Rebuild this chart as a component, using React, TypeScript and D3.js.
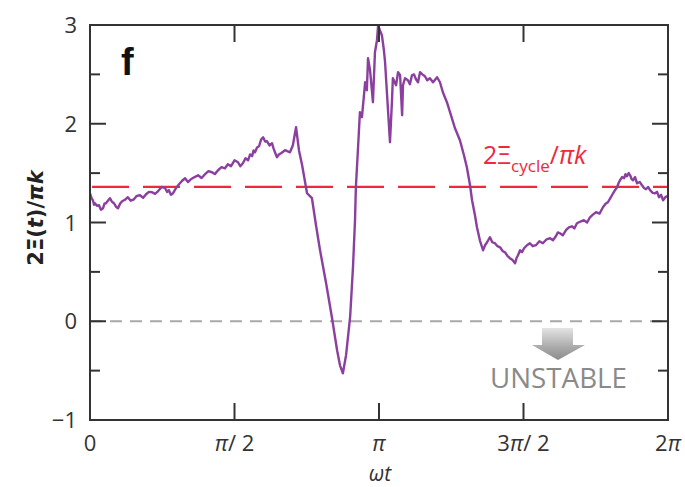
import React from "react";
import * as d3 from "d3";

// Trace of the normalised tilt: [phase ωt in units of π, 2Ξ(t)/πk]
const trace: [number, number][] = [
  [0.0, 1.296], [0.005, 1.25], [0.01, 1.225], [0.014, 1.18], [0.017, 1.195], [0.024, 1.17],
  [0.031, 1.175], [0.038, 1.13], [0.045, 1.144], [0.05, 1.19], [0.055, 1.195], [0.062, 1.22],
  [0.069, 1.246], [0.076, 1.21], [0.083, 1.195], [0.09, 1.16], [0.097, 1.144], [0.104, 1.19],
  [0.111, 1.215], [0.121, 1.23], [0.131, 1.256], [0.141, 1.22], [0.152, 1.235], [0.162, 1.27],
  [0.173, 1.276], [0.184, 1.25], [0.194, 1.286], [0.204, 1.31], [0.215, 1.306], [0.225, 1.29],
  [0.235, 1.316], [0.248, 1.36], [0.26, 1.347], [0.267, 1.31], [0.273, 1.327], [0.28, 1.28],
  [0.287, 1.296], [0.298, 1.35], [0.308, 1.387], [0.318, 1.42], [0.329, 1.448], [0.339, 1.41],
  [0.349, 1.438], [0.362, 1.46], [0.374, 1.478], [0.386, 1.45], [0.398, 1.489], [0.41, 1.52],
  [0.422, 1.509], [0.432, 1.49], [0.443, 1.529], [0.455, 1.56], [0.467, 1.549], [0.477, 1.59],
  [0.488, 1.57], [0.5, 1.63], [0.512, 1.61], [0.52, 1.57], [0.529, 1.6], [0.538, 1.65],
  [0.547, 1.63], [0.554, 1.69], [0.561, 1.671], [0.566, 1.73], [0.571, 1.711], [0.578, 1.76],
  [0.585, 1.772], [0.592, 1.84], [0.599, 1.863], [0.606, 1.82], [0.612, 1.823], [0.621, 1.78],
  [0.63, 1.803], [0.635, 1.75], [0.64, 1.711], [0.647, 1.661], [0.654, 1.69], [0.661, 1.701],
  [0.675, 1.732], [0.692, 1.711], [0.702, 1.782], [0.713, 1.965], [0.723, 1.732], [0.734, 1.58],
  [0.751, 1.296], [0.768, 1.246], [0.782, 0.972], [0.796, 0.719], [0.817, 0.385], [0.837, 0.041],
  [0.855, -0.294], [0.865, -0.446], [0.875, -0.527], [0.886, -0.344], [0.9, 0.041], [0.91, 0.547],
  [0.917, 1.023], [0.92, 1.357], [0.927, 1.732], [0.934, 2.116], [0.941, 2.066], [0.948, 2.289],
  [0.952, 2.42], [0.958, 2.339], [0.962, 2.663], [0.969, 2.542], [0.979, 2.218], [0.986, 2.724],
  [0.993, 2.846], [0.997, 2.997], [1.003, 2.947], [1.01, 2.896], [1.017, 2.744], [1.021, 2.623],
  [1.028, 2.289], [1.038, 1.813], [1.045, 2.238], [1.048, 2.461], [1.059, 2.39], [1.066, 2.522],
  [1.073, 2.491], [1.08, 2.086], [1.083, 2.39], [1.09, 2.461], [1.1, 2.441], [1.107, 2.4],
  [1.114, 2.491], [1.121, 2.5], [1.128, 2.451], [1.135, 2.42], [1.142, 2.522], [1.15, 2.5],
  [1.159, 2.481], [1.167, 2.44], [1.176, 2.461], [1.187, 2.42], [1.201, 2.471], [1.211, 2.42],
  [1.221, 2.319], [1.235, 2.218], [1.246, 2.116], [1.263, 1.954], [1.28, 1.833], [1.294, 1.681],
  [1.304, 1.559], [1.315, 1.377], [1.322, 1.225], [1.332, 1.073], [1.339, 0.952], [1.349, 0.82],
  [1.36, 0.719], [1.367, 0.77], [1.374, 0.8], [1.384, 0.851], [1.392, 0.8], [1.401, 0.79],
  [1.41, 0.76], [1.419, 0.749], [1.428, 0.71], [1.436, 0.699], [1.445, 0.66], [1.453, 0.638],
  [1.462, 0.62], [1.471, 0.587], [1.476, 0.64], [1.481, 0.668], [1.488, 0.719], [1.495, 0.7],
  [1.502, 0.739], [1.512, 0.77], [1.522, 0.79], [1.532, 0.76], [1.543, 0.77], [1.555, 0.81],
  [1.567, 0.79], [1.58, 0.83], [1.592, 0.841], [1.602, 0.82], [1.612, 0.861], [1.619, 0.9],
  [1.626, 0.891], [1.636, 0.87], [1.647, 0.922], [1.657, 0.95], [1.668, 0.962], [1.676, 0.94],
  [1.685, 0.992], [1.697, 1.01], [1.709, 1.023], [1.72, 1.0], [1.73, 1.053], [1.74, 1.08],
  [1.751, 1.104], [1.763, 1.09], [1.775, 1.154], [1.784, 1.19], [1.792, 1.205], [1.801, 1.25],
  [1.81, 1.296], [1.817, 1.33], [1.824, 1.357], [1.829, 1.4], [1.834, 1.428], [1.841, 1.46],
  [1.848, 1.448], [1.853, 1.49], [1.858, 1.468], [1.864, 1.5], [1.869, 1.478], [1.874, 1.44],
  [1.879, 1.428], [1.886, 1.46], [1.893, 1.397], [1.902, 1.41], [1.91, 1.377], [1.917, 1.35],
  [1.924, 1.337], [1.931, 1.36], [1.938, 1.327], [1.947, 1.3], [1.955, 1.296], [1.962, 1.31],
  [1.969, 1.256], [1.976, 1.28], [1.983, 1.225], [1.992, 1.26], [2.0, 1.27],
];
const cycleLevel = 1.36;
const yMajor = [-1, 0, 1, 2, 3];
const yMinor = [-0.5, 0.5, 1.5, 2.5];
const xTicks = [0, 0.5, 1, 1.5, 2];
const xTickLabels = ["0", "π/ 2", "π", "3π/ 2", "2π"];

const W = 685;
const H = 487;
const left = 90;
const right = 668;
const top = 25;
const bottom = 420;

export default function App() {
  const x = d3.scaleLinear().domain([0, 2]).range([left, right]);
  const y = d3.scaleLinear().domain([-1, 3]).range([bottom, top]);
  const line = d3
    .line<[number, number]>()
    .x((d) => x(d[0]))
    .y((d) => y(d[1]))
    .curve(d3.curveLinear);

  const axisColor = "#333";
  const tickFont = "'Open Sans', 'DejaVu Sans', sans-serif";

  const renderXLabel = (lab: string) =>
    lab.split("").map((ch, i) =>
      ch === "π" ? (
        <tspan key={i} fontStyle="italic">
          {ch}
        </tspan>
      ) : (
        <tspan key={i}>{ch}</tspan>
      )
    );

  return (
    <svg
      width={W}
      height={H}
      style={{ position: "absolute", left: 0, top: 0, background: "#fff" }}
    >
      <defs>
        <linearGradient id="arrowFill" x1="0" y1="0" x2="0" y2="1">
          <stop offset="0%" stopColor="#e4e4e4" />
          <stop offset="60%" stopColor="#aaaaaa" />
          <stop offset="100%" stopColor="#8c8c8c" />
        </linearGradient>
      </defs>

      {/* zero reference */}
      <line
        x1={left}
        x2={right}
        y1={y(0)}
        y2={y(0)}
        stroke="#a8a8a8"
        strokeWidth={2}
        strokeDasharray="12 8"
      />

      {/* cycle-averaged level */}
      <line
        x1={left + 2}
        x2={right}
        y1={y(cycleLevel)}
        y2={y(cycleLevel)}
        stroke="#ec2a3c"
        strokeWidth={2.2}
        strokeDasharray="37 14"
      />

      {/* tilt trace */}
      <path
        d={line(trace) || ""}
        fill="none"
        stroke="#8b3f9f"
        strokeWidth={2.4}
        strokeLinejoin="round"
      />

      {/* frame */}
      <rect
        x={left}
        y={top}
        width={right - left}
        height={bottom - top}
        fill="none"
        stroke={axisColor}
        strokeWidth={2}
      />

      {/* y ticks, left and right, pointing inward */}
      {yMajor.map((v) => (
        <g key={"ym" + v}>
          <line x1={left} x2={left + 16} y1={y(v)} y2={y(v)} stroke={axisColor} strokeWidth={2} />
          <line x1={right} x2={right - 16} y1={y(v)} y2={y(v)} stroke={axisColor} strokeWidth={2} />
        </g>
      ))}
      {yMinor.map((v) => (
        <g key={"yn" + v}>
          <line x1={left} x2={left + 10} y1={y(v)} y2={y(v)} stroke={axisColor} strokeWidth={2} />
          <line x1={right} x2={right - 10} y1={y(v)} y2={y(v)} stroke={axisColor} strokeWidth={2} />
        </g>
      ))}

      {/* x ticks, bottom and top, pointing inward */}
      {xTicks.slice(1, -1).map((v) => (
        <g key={"xt" + v}>
          <line x1={x(v)} x2={x(v)} y1={bottom} y2={bottom - 17} stroke={axisColor} strokeWidth={2} />
          <line x1={x(v)} x2={x(v)} y1={top} y2={top + 17} stroke={axisColor} strokeWidth={2} />
        </g>
      ))}

      {/* y tick labels */}
      {yMajor.map((v) => (
        <text
          key={"yl" + v}
          x={77}
          y={y(v) + 8}
          textAnchor="end"
          fontFamily={tickFont}
          fontSize={22}
          fill="#333"
        >
          {v < 0 ? "\u2212" + Math.abs(v) : String(v)}
        </text>
      ))}

      {/* x tick labels */}
      {xTicks.map((v, i) => (
        <text
          key={"xl" + v}
          x={x(v)}
          y={451}
          textAnchor="middle"
          fontFamily={tickFont}
          fontSize={22}
          fill="#333"
        >
          {renderXLabel(xTickLabels[i])}
        </text>
      ))}

      {/* axis titles */}
      <text
        x={380}
        y={481}
        textAnchor="middle"
        fontFamily={tickFont}
        fontSize={21}
        fontStyle="italic"
        fill="#333"
      >
        ωt
      </text>
      <text
        transform={`translate(43, 218) rotate(-90)`}
        textAnchor="middle"
        fontFamily="'DejaVu Sans', sans-serif"
        fontSize={21}
        fontWeight="bold"
        fill="#222"
      >
        2Ξ(
        <tspan fontStyle="italic">t</tspan>
        )/
        <tspan fontStyle="italic">πk</tspan>
      </text>

      {/* panel letter */}
      <text
        x={121}
        y={75}
        fontFamily="'Liberation Sans', Arial, sans-serif"
        fontWeight="bold"
        fontSize={38}
        fill="#111"
      >
        f
      </text>

      {/* level label */}
      <text x={483} y={164} fontFamily={tickFont} fontSize={25} fill="#ec2a3c">
        2Ξ
        <tspan fontSize={17} dy={8}>
          cycle
        </tspan>
        <tspan dy={-8}>/</tspan>
        <tspan fontStyle="italic">πk</tspan>
      </text>

      {/* unstable region marker */}
      <path
        d="M542,328 L573,328 L573,345 L585,345 L558,360 L532,345 L542,345 Z"
        fill="url(#arrowFill)"
      />
      <text
        x={490}
        y={388}
        fontFamily={tickFont}
        fontSize={27}
        fill="#8a8a8a"
        textLength={137}
        lengthAdjust="spacingAndGlyphs"
      >
        UNSTABLE
      </text>
    </svg>
  );
}
